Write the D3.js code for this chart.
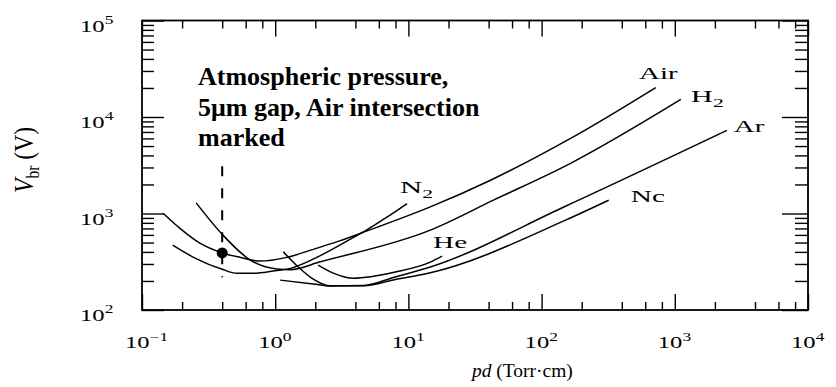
<!DOCTYPE html>
<html>
<head>
<meta charset="utf-8">
<script src="https://cdn.jsdelivr.net/npm/d3@7"></script>
<style>
  body { margin: 0; background: #fff; }
  svg { display: block; }
  text { font-family: "Liberation Serif", "Times New Roman", serif; fill: #000; }
</style>
</head>
<body>
<div id="chart"></div>
<script>
// Data (pd in Torr·cm, breakdown voltage in V)
const airPd = [0.144, 0.2, 0.27, 0.4, 0.55, 0.77, 1.2, 1.93, 3.0, 4.9, 14.6, 41, 165, 720];
const airV  = [1007, 672, 495, 390, 350, 321, 349, 425, 517, 660, 1170, 2200, 6000, 20200];

const h2Pd = [0.255, 0.405, 0.65, 1.03, 1.3, 2.18, 14.6, 43.5, 165, 1110];
const h2V  = [1290, 597, 329, 266, 262, 316, 672, 1375, 3310, 15200];

const n2Pd = [0.17, 0.25, 0.40, 0.515, 0.684, 0.966, 1.30, 2.18, 3.67, 4.9, 6.71, 9.77];
const n2V  = [470, 345, 264, 240, 240, 253, 270, 366, 542, 679, 893, 1268];

const hePd = [2.1, 2.73, 3.86, 7.98, 14.6, 17.9];
const heV  = [292, 241, 213, 247, 313, 361];

const nePd = [1.15, 1.49, 1.93, 2.59, 4.59, 7.98, 14.6, 151, 319];
const neV  = [401, 279, 209, 178, 178, 207, 243, 853, 1375];

const arPd = [1.09, 1.93, 2.59, 4.59, 7.98, 14.6, 151, 2460];
const arV  = [204, 186, 177, 179, 220, 279, 1189, 7260];

// atmospheric pressure, 5 um gap
const markPd = 0.4;
const markV = 390;
const markLineV = [3080, 219];

const xMajor = [0.1, 1, 10, 100, 1000, 10000];
const xExp = ["\u22121", "0", "1", "2", "3", "4"];
const xMinorMult = [2, 4, 6, 8];
const yMajor = [100, 1000, 10000, 100000];
const yExp = ["2", "3", "4", "5"];
const yMinorMult = [2, 3, 4, 5, 6, 7, 8, 9];

const note = ["Atmospheric pressure,", "5\u03bcm gap, Air intersection", "marked"];

// Layout
const W = 836, H = 387;
const margin = {top: 20.5, right: 28, bottom: 77, left: 142};
const iw = W - margin.left - margin.right;
const ih = H - margin.top - margin.bottom;

const svg = d3.select("#chart").append("svg")
    .attr("width", W)
    .attr("height", H)
    .attr("font-family", "Liberation Serif, serif");

const g = svg.append("g")
    .attr("transform", `translate(${margin.left},${margin.top})`);

const x = d3.scaleLog().domain([0.1, 1e4]).range([0, iw]);
const y = d3.scaleLog().domain([100, 1e5]).range([ih, 0]);

const xMinor = xMajor.slice(0, -1).flatMap(d => xMinorMult.map(m => d * m));
const yMinor = yMajor.slice(0, -1).flatMap(d => yMinorMult.map(m => d * m));

// ticks (all pointing inward)
function ticks(axis, vals, size, tx) {
    const a = g.append("g")
        .attr("transform", tx || null)
        .call(axis.tickValues(vals).tickSize(size).tickFormat(""));
    a.select(".domain").remove();
    a.selectAll("line").attr("stroke", "#000").attr("stroke-width", 1.4);
}
ticks(d3.axisBottom(x), xMinor, -8, `translate(0,${ih})`);
ticks(d3.axisBottom(x), xMajor, -16, `translate(0,${ih})`);
ticks(d3.axisTop(x), xMinor, -8);
ticks(d3.axisTop(x), xMajor, -16);
ticks(d3.axisLeft(y), yMinor, -12);
ticks(d3.axisLeft(y), yMajor, -22);
ticks(d3.axisRight(y), yMinor, -13, `translate(${iw},0)`);
ticks(d3.axisRight(y), yMajor, -26, `translate(${iw},0)`);

g.append("rect")
    .attr("width", iw)
    .attr("height", ih)
    .attr("fill", "none")
    .attr("stroke", "#000")
    .attr("stroke-width", 1.8);

// text helper: parts are tspans, optional fit to width
function addText(parent, parts, o) {
    const t = parent.append("text")
        .attr("font-size", o.size)
        .attr("font-weight", o.weight || null)
        .attr("text-anchor", o.anchor || "start");
    parts.forEach(p => {
        t.append("tspan")
            .text(p.t)
            .attr("font-size", p.s || null)
            .attr("font-style", p.i ? "italic" : null)
            .attr("dy", p.dy || null);
    });
    let sx = o.sx || 1;
    if (o.w) sx = o.w / t.node().getBBox().width;
    t.attr("transform", `translate(${o.x},${o.y}) rotate(${o.rot || 0}) scale(${sx},${o.sy || 1})`);
    return t;
}

// tick labels
xMajor.forEach((d, i) => {
    addText(svg, [{t: "10"}, {t: xExp[i], s: 12, dy: -7}],
        {x: margin.left + x(d) - 17, y: 348, size: 17, sx: 1.45});
});
yMajor.forEach((d, i) => {
    addText(svg, [{t: "10"}, {t: yExp[i], s: 12, dy: -8}],
        {x: 80, y: margin.top + y(d) + 11, size: 17, sx: 1.45});
});

// axis titles
addText(svg, [{t: "pd", i: true}, {t: " (Torr\u00b7cm)"}],
    {x: 472, y: 377, size: 18, w: 103});
addText(svg, [{t: "V", i: true}, {t: "br", s: 12, dy: 4}, {t: " (V)", dy: -4}],
    {x: 33, y: 160, size: 18, w: 66, sy: 1.5, rot: -90, anchor: "middle"});

// curves
const line = d3.line()
    .x(d => x(d[0]))
    .y(d => y(d[1]))
    .curve(d3.curveMonotoneX);

const series = [
    {name: [{t: "Air"}], pd: airPd, v: airV, lab: {dx: 2.5, dy: -9, anchor: "middle", w: 39}},
    {name: [{t: "H"}, {t: "2", s: 12, dy: 5}], pd: h2Pd, v: h2V, lab: {dx: 10, dy: 3, w: 33}},
    {name: [{t: "N"}, {t: "2", s: 12, dy: 5}], pd: n2Pd, v: n2V, lab: {dx: -7, dy: -11, w: 33}},
    {name: [{t: "He"}], pd: hePd, v: heV, lab: {dx: -9, dy: -8, w: 34}},
    {name: [{t: "Nc"}], pd: nePd, v: neV, lab: {dx: 22, dy: 2, w: 35}},
    {name: [{t: "Ar"}], pd: arPd, v: arV, lab: {dx: 7, dy: 2, w: 31}}
];

series.forEach(s => {
    const pts = s.pd.map((p, i) => [p, s.v[i]]);
    g.append("path")
        .datum(pts)
        .attr("fill", "none")
        .attr("stroke", "#000")
        .attr("stroke-width", 1.5)
        .attr("d", line);
    const end = pts[pts.length - 1];
    addText(g, s.name, {
        x: x(end[0]) + s.lab.dx, y: y(end[1]) + s.lab.dy,
        size: 17, w: s.lab.w, anchor: s.lab.anchor
    });
});

// marker: dashed line + dot
g.append("line")
    .attr("x1", x(markPd)).attr("x2", x(markPd))
    .attr("y1", y(markLineV[0])).attr("y2", y(markLineV[1]))
    .attr("stroke", "#000")
    .attr("stroke-width", 2)
    .attr("stroke-dasharray", "10,12");
g.append("circle")
    .attr("cx", x(markPd))
    .attr("cy", y(markV))
    .attr("r", 5.5)
    .attr("fill", "#000");

// annotation
note.forEach((s, i) => {
    addText(svg, [{t: s}], {x: 198, y: 85 + i * 30.5, size: 26, weight: "bold"});
});
</script>
</body>
</html>
